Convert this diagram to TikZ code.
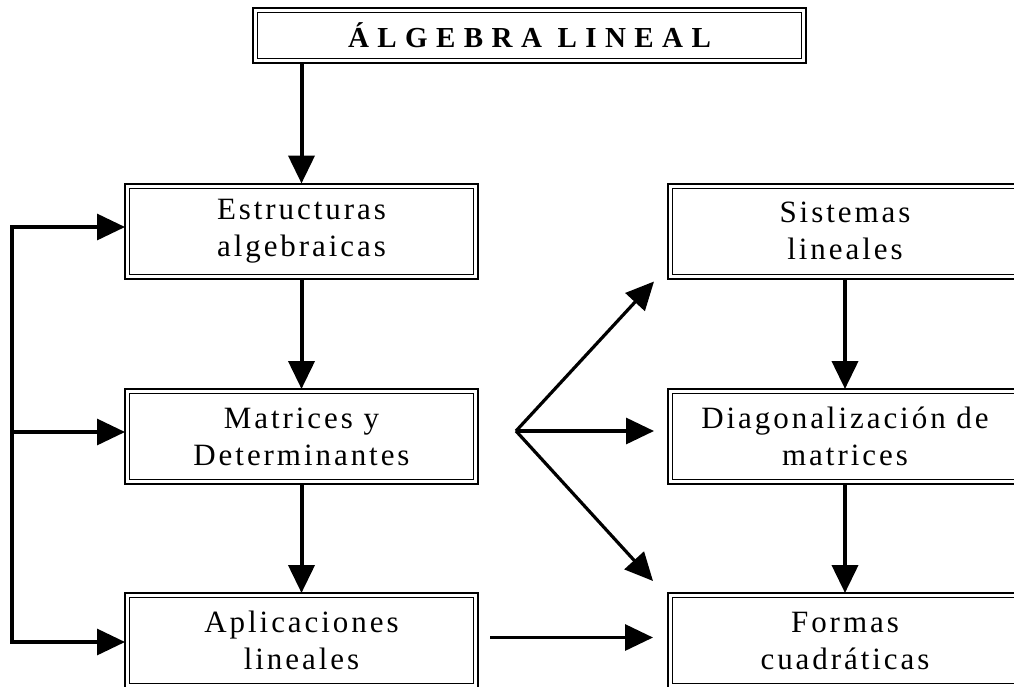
\documentclass[tikz,border=0pt]{standalone}
\usepackage{fontspec}
\setmainfont{Liberation Serif}[LetterSpace=9.5]
\newfontfamily\titlefont{Liberation Serif}[LetterSpace=29]
\usetikzlibrary{arrows.meta}
\tikzset{
  box/.style={draw, line width=2pt, outer sep=0pt, minimum width=353pt, minimum height=95pt,
    align=center, inner sep=0pt, font=\fontsize{31}{37}\selectfont},
  arr/.style={line width=3.2pt, -{Triangle[length=28pt,width=26pt]}},
  varr/.style={line width=4pt, -{Triangle[length=28pt,width=26pt]}},
  plain/.style={line width=3.5pt},
  inner/.style={line width=1pt}
}
\begin{document}
\begin{tikzpicture}[x=1pt,y=-1pt]
\useasboundingbox (0,0) rectangle (1014,686);
\clip (0,0) rectangle (1014,686);
\node[box, minimum width=553pt, minimum height=55pt, font=\titlefont\bfseries\fontsize{29}{32}\selectfont] (title) at (529.5,35.5) {ÁLGEBRA LINEAL};
\node[box] (est) at (301.5,231) {Estructuras\\algebraicas};
\node[box] (mat) at (301.5,436.5) {Matrices y\\Determinantes};
\node[box] (apl) at (301.5,640.5) {Aplicaciones\\lineales};
\node[box, minimum width=354pt] (sis) at (845,231) {Sistemas\\lineales};
\node[box, minimum width=354pt] (dia) at (845,436.5) {Diagonalización de\\matrices};
\node[box, minimum width=354pt] (for) at (845,640.5) {Formas\\cuadráticas};
\foreach \n in {title,est,mat,apl,sis,dia,for}
  \draw[inner] ([xshift=4.5pt,yshift=-4.5pt]\n.north west) rectangle ([xshift=-4.5pt,yshift=4.5pt]\n.south east);
% vertical arrows
\draw[varr] (title.south -| est.north) -- (est.north);
\draw[varr] (est.south) -- (mat.north);
\draw[varr] (mat.south) -- (apl.north);
\draw[varr] (sis.south) -- (dia.north);
\draw[varr] (dia.south) -- (for.north);
% left bracket
\coordinate (lt) at (12,227);
\coordinate (lm) at (12,432);
\coordinate (lb) at (12,642);
\draw[plain] (lt) -- (lb);
\draw[arr] ([xshift=-1.6pt]lt) -- (lt -| est.west);
\draw[arr] (lm) -- (lm -| mat.west);
\draw[arr] ([xshift=-1.6pt]lb) -- (lb -| apl.west);
% fan
\coordinate (fan) at (516,431);
\draw[arr] (fan) -- ([xshift=-14pt,yshift=-3pt]sis.south west);
\draw[arr, shorten >=14pt] (fan) -- (fan -| dia.west);
\draw[arr] (fan) -- ([xshift=-15pt,yshift=12pt]for.north west);
\draw[arr] ([xshift=12pt,yshift=3pt]apl.east) -- ([xshift=-15pt,yshift=3pt]for.west);
\end{tikzpicture}
\end{document}
